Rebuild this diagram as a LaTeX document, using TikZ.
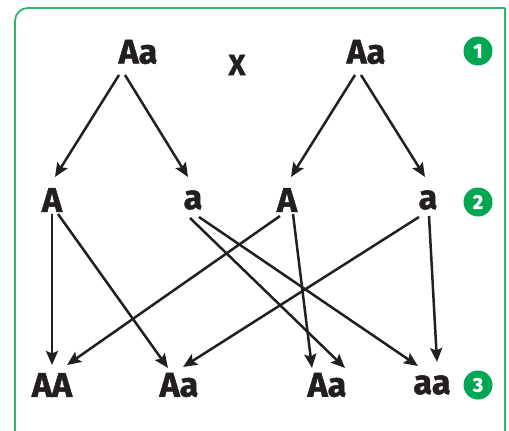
\documentclass[tikz,border=0pt]{standalone}
\usepackage{fontspec}
\newfontfamily\labfont{Fira Sans}[BoldFeatures={FakeBold=1.5}]
\usetikzlibrary{calc,arrows.meta}
\definecolor{frameg}{HTML}{2EB46E}
\definecolor{badgeg}{HTML}{00A651}
\definecolor{ink}{HTML}{231F20}
\tikzset{
  lab/.style={inner sep=0pt, text=ink, font=\labfont\bfseries\fontsize{34}{36}\selectfont},
  badge/.style={circle, fill=badgeg, minimum size=29pt, inner sep=0pt, text=white, font=\labfont\bfseries\fontsize{20}{22}\selectfont},
  arr/.style={draw=ink, line width=2.5pt, -{Stealth[length=14pt,width=12pt,inset=2.5pt]}}
}
\begin{document}
\begin{tikzpicture}[x=1pt,y=-1pt]
\useasboundingbox (0,0) rectangle (509,431);
\clip (0,0) rectangle (509,431);
\draw[frameg, line width=1.8pt, rounded corners=13pt] (15,460) -- (15,8) -- (505,8);
\draw[frameg, line width=1.8pt] (505,8) -- (505,460);

\node[lab] (P1) at (138,52) {Aa};
\node[lab, font=\labfont\bfseries\fontsize{29}{30}\selectfont] (X) at (237,65) {X};
\node[lab] (P2) at (366,52) {Aa};
\node[badge] (B1) at (478,51) {1};

\node[lab] (G1) at (52,200) {A};
\node[lab] (G2) at (193,200) {a};
\node[lab] (G3) at (287,200) {A};
\node[lab] (G4) at (428,200) {a};
\node[badge] (B2) at (478,202) {2};

\node[lab] (C1) at (52,385) {AA};
\node[lab] (C2) at (179,385) {Aa};
\node[lab] (C3) at (327,385) {Aa};
\node[lab] (C4) at (432,385) {aa};
\node[badge] (B3) at (478,385) {3};

% parents to gametes
\draw[arr] ($(P1)+(-19,23)$) -- ($(G1)+(3,-23)$);
\draw[arr] ($(P1)+(-13,23)$) -- ($(G2)+(-5,-23)$);
\draw[arr] ($(P2)+(-11,23)$) -- ($(G3)+(4,-23)$);
\draw[arr] ($(P2)+(-5,23)$) -- ($(G4)+(-3,-23)$);

% gametes to offspring
\draw[arr] ($(G1)+(0,14)$) -- ($(C1)+(0,-20)$);
\draw[arr] ($(G1)+(6,14)$) -- ($(C2)+(-11,-17)$);
\draw[arr] ($(G2)+(-3,18)$) -- ($(C3)+(18,-17)$);
\draw[arr] ($(G2)+(6,17)$) -- ($(C4)+(-14,-19)$);
\draw[arr] ($(G3)+(-7,16)$) -- ($(C1)+(15,-20)$);
\draw[arr] ($(G3)+(6,14)$) -- ($(C3)+(-15,-17)$);
\draw[arr] ($(G4)+(-9,17)$) -- ($(C2)+(4,-18)$);
\draw[arr] ($(G4)+(1,16)$) -- ($(C4)+(5,-23)$);
\end{tikzpicture}
\end{document}
